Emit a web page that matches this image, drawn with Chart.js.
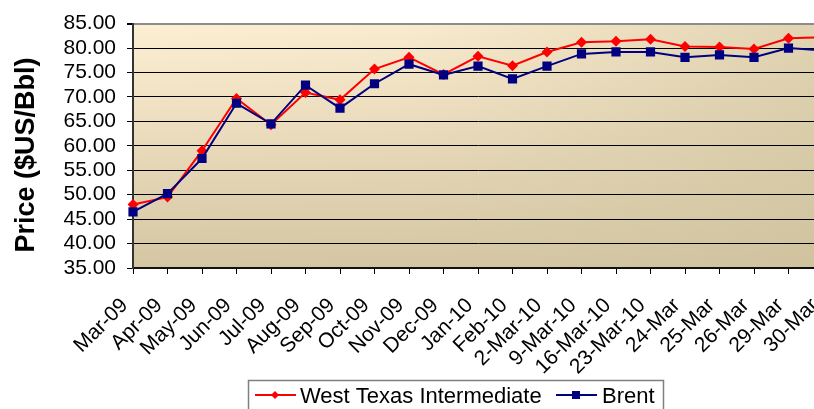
<!DOCTYPE html>
<html>
<head>
<meta charset="utf-8">
<script src="https://cdn.jsdelivr.net/npm/chart.js@4.4.1/dist/chart.umd.min.js"></script>
<style>
  html, body { margin: 0; padding: 0; background: #fff; overflow: hidden; }
  #wrap { width: 814px; height: 409px; overflow: hidden; position: relative; }
  canvas { display: block; }
</style>
</head>
<body>
<div id="wrap"><canvas id="oilChart" width="840" height="409"></canvas></div>
<script>
// categories (the last one sits just past the right edge of the picture)
const dates = ["Mar-09", "Apr-09", "May-09", "Jun-09", "Jul-09", "Aug-09", "Sep-09", "Oct-09",
    "Nov-09", "Dec-09", "Jan-10", "Feb-10", "2-Mar-10", "9-Mar-10", "16-Mar-10", "23-Mar-10",
    "24-Mar", "25-Mar", "26-Mar", "29-Mar", "30-Mar"];

// prices in $US per barrel
const wti = [48.0, 49.5, 59.0, 69.7, 64.3, 70.9, 69.4, 75.7, 78.1, 74.6, 78.3, 76.4,
    79.2, 81.2, 81.4, 81.8, 80.3, 80.2, 79.8, 82.0, 82.2];
const brent = [46.5, 50.2, 57.4, 68.7, 64.5, 72.4, 67.7, 72.7, 76.7, 74.5, 76.3, 73.7,
    76.3, 78.8, 79.2, 79.2, 78.1, 78.6, 78.1, 80.0, 79.5];

const yMin = 35;
const yMax = 85;
const yStep = 5;

const axisTitle = "Price ($US/Bbl)";
const seriesNames = ["West Texas Intermediate", "Brent"];

const FONT = "'Liberation Sans', Arial, Helvetica, sans-serif";
Chart.defaults.font.family = FONT;
Chart.defaults.color = "#000";

// plot area background, light cream to tan
const backgroundPlugin = {
    id: "plotBackground",
    beforeDraw(chart) {
        const { ctx, chartArea: a } = chart;
        ctx.save();
        let g = ctx.createLinearGradient(0, a.top, 0, a.bottom);
        g.addColorStop(0, "#fdefd2");
        g.addColorStop(1, "#d4c6a2");
        ctx.fillStyle = g;
        ctx.fillRect(a.left, a.top, a.right - a.left, a.bottom - a.top);
        g = ctx.createLinearGradient(a.left, 0, a.right, 0);
        g.addColorStop(0, "rgba(210,198,165,0)");
        g.addColorStop(0.4, "rgba(210,198,165,0.1)");
        g.addColorStop(1, "rgba(205,192,155,0.6)");
        ctx.fillStyle = g;
        ctx.fillRect(a.left, a.top, a.right - a.left, a.bottom - a.top);
        ctx.restore();
    }
};

function drawMarker(ctx, style, x, y, r, color) {
    ctx.fillStyle = color;
    ctx.beginPath();
    if (style === "diamond") {
        ctx.moveTo(x, y - r);
        ctx.lineTo(x + r, y);
        ctx.lineTo(x, y + r);
        ctx.lineTo(x - r, y);
        ctx.closePath();
    } else {
        ctx.rect(x - r, y - r, 2 * r, 2 * r);
    }
    ctx.fill();
}

// y axis title and the boxed legend under the chart
const extrasPlugin = {
    id: "extras",
    afterDraw(chart) {
        const ctx = chart.ctx;
        ctx.save();

        ctx.translate(34, 155);
        ctx.rotate(-Math.PI / 2);
        ctx.font = "bold 27px " + FONT;
        ctx.fillStyle = "#000";
        ctx.textAlign = "center";
        ctx.textBaseline = "alphabetic";
        ctx.fillText(axisTitle, 0, 0);
        ctx.setTransform(1, 0, 0, 1, 0, 0);

        // legend box
        ctx.fillStyle = "#fff";
        ctx.fillRect(248, 380, 415, 40);
        ctx.strokeStyle = "#7f7f7f";
        ctx.lineWidth = 1.5;
        ctx.strokeRect(248.5, 380.5, 415, 40);

        ctx.font = "22px " + FONT;
        ctx.textBaseline = "alphabetic";
        ctx.textAlign = "left";
        const ly = 395;
        const items = [
            { x: 255, tx: 300, color: "#ff0000", marker: "diamond", r: 4 },
            { x: 556, tx: 602, color: "#000080", marker: "square", r: 4 }
        ];
        items.forEach((it, i) => {
            ctx.strokeStyle = it.color;
            ctx.lineWidth = 2;
            ctx.beginPath();
            ctx.moveTo(it.x, ly);
            ctx.lineTo(it.x + 41, ly);
            ctx.stroke();
            drawMarker(ctx, it.marker, it.x + 20, ly, it.r, it.color);
            ctx.fillStyle = "#000";
            ctx.fillText(seriesNames[i], it.tx, 403);
        });
        ctx.restore();
    }
};

const ctx = document.getElementById("oilChart").getContext("2d");
new Chart(ctx, {
    type: "line",
    data: {
        labels: dates,
        datasets: [
            {
                label: seriesNames[0],
                data: wti,
                borderColor: "#ff0000",
                backgroundColor: "#ff0000",
                borderWidth: 2,
                pointStyle: "rectRot",
                pointRadius: 5.5,
                pointBorderWidth: 0,
                tension: 0,
                order: 1
            },
            {
                label: seriesNames[1],
                data: brent,
                borderColor: "#000080",
                backgroundColor: "#000080",
                borderWidth: 2,
                pointStyle: "rect",
                pointRadius: 6.5,
                pointBorderWidth: 0,
                tension: 0,
                order: 0
            }
        ]
    },
    options: {
        responsive: false,
        animation: false,
        devicePixelRatio: 1,
        layout: { padding: { top: 20, right: 17, left: 0, bottom: 0 } },
        plugins: {
            legend: { display: false },
            tooltip: { enabled: false }
        },
        scales: {
            x: {
                offset: false,
                grid: {
                    drawOnChartArea: false,
                    drawTicks: true,
                    tickLength: 6,
                    tickColor: "#000",
                    tickWidth: 1
                },
                border: { display: true, color: "#111", width: 2 },
                ticks: {
                    autoSkip: false,
                    maxRotation: 45,
                    minRotation: 45,
                    padding: 11,
                    font: { size: 21 },
                    color: "#000",
                    // trailing spaces nudge the rotated text down-left of its tick
                    callback(value) { return this.getLabelForValue(value) + "  "; }
                },
                afterFit(scale) {
                    scale.height = 141;
                    scale.paddingLeft = 0;
                    scale.paddingRight = 0;
                }
            },
            y: {
                min: yMin,
                max: yMax,
                grid: {
                    color: (c) => (c.tick && c.tick.value === yMax ? "#8c8c8c" : "#000"),
                    lineWidth: (c) => (c.tick && c.tick.value === yMax ? 2 : 1),
                    tickColor: "#000",
                    tickLength: 6
                },
                border: { display: true, color: "#333", width: 2 },
                ticks: {
                    stepSize: yStep,
                    autoSkip: false,
                    padding: 11,
                    font: { size: 21 },
                    color: "#000",
                    callback: (v) => Number(v).toFixed(2)
                },
                afterFit(scale) { scale.width = 133; }
            }
        }
    },
    plugins: [backgroundPlugin, extrasPlugin]
});
</script>
</body>
</html>
